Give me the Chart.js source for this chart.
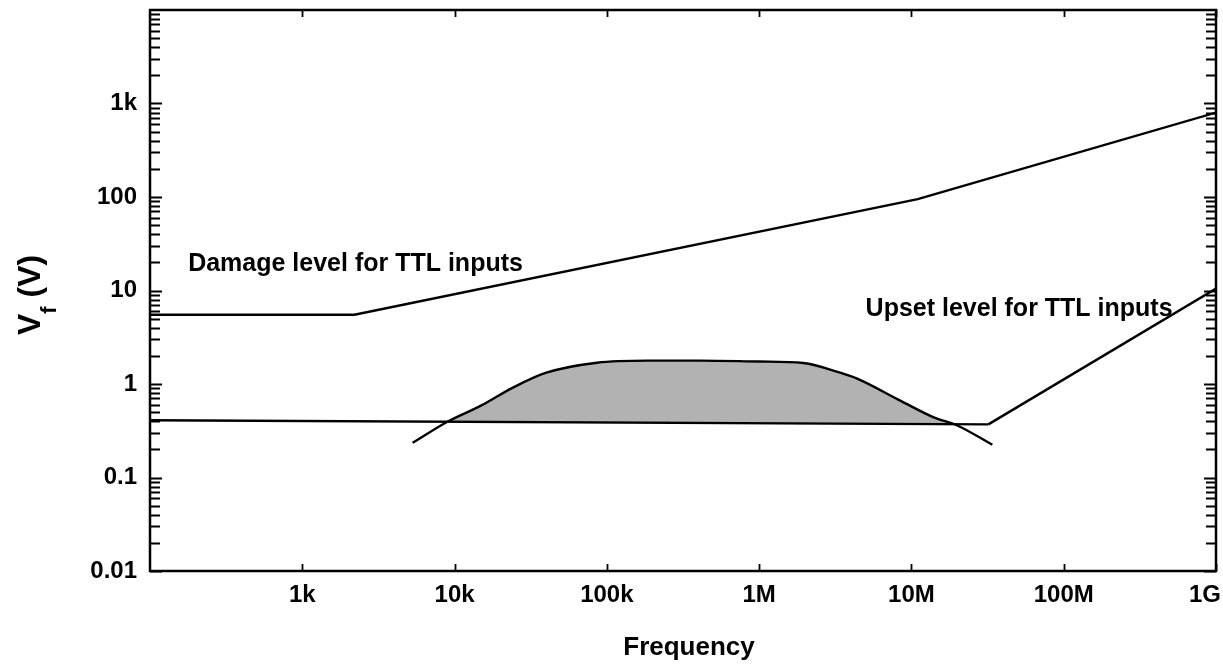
<!DOCTYPE html>
<html>
<head>
<meta charset="utf-8">
<script src="https://cdn.jsdelivr.net/npm/chart.js@4/dist/chart.umd.min.js"></script>
<style>
  html, body { margin: 0; padding: 0; background: #fff; }
</style>
</head>
<body>
<canvas id="myChart" width="1223" height="668"></canvas>
<script>
// damage level for TTL inputs
const damageFreq = [100, 2200, 11e6, 1e9];
const damageV = [5.5, 5.5, 95, 800];

// upset level for TTL inputs : palier puis montée
const upsetFlatFreq = [100, 32e6];
const upsetFlatV = [0.41, 0.37];
const upsetRiseFreq = [32e6, 1e9];
const upsetRiseV = [0.37, 10.5];

// bell shaped curve (shaded where above upset level)
const curveFreq = [5.3e3, 9.1e3, 15e3, 24e3, 40e3, 86e3, 184e3, 411e3, 1e6, 1.95e6, 3.4e6, 4.4e6, 8.5e6, 14e6, 20e6, 34e6];
const curveV = [0.235, 0.40, 0.59, 0.91, 1.32, 1.69, 1.78, 1.78, 1.74, 1.68, 1.32, 1.14, 0.66, 0.44, 0.36, 0.224];

const yTickValues = [0.01, 0.1, 1, 10, 100, 1000];
const yTickLabels = ["0.01", "0.1", "1", "10", "100", "1k"];
const xTickValues = [1e3, 1e4, 1e5, 1e6, 1e7, 1e8, 1e9];
const xTickLabels = ["1k", "10k", "100k", "1M", "10M", "100M", "1G"];

const damageLabel = "Damage level for TTL inputs";
const damageLabelAt = [178, 16];
const upsetLabel = "Upset level for TTL inputs";
const upsetLabelAt = [5.0e6, 5.4];

const FONT = "'Liberation Sans', Arial, sans-serif";
const SHADE = "#b2b2b2";

function pts(xs, ys) {
    return xs.map((v, i) => ({x: v, y: ys[i]}));
}

const canvas = document.getElementById("myChart");
const ctx = canvas.getContext("2d");

const framePlugin = {
    id: "frame",
    afterDraw(chart) {
        const c = chart.ctx;
        const a = chart.chartArea;
        const xs = chart.scales.x;
        const ys = chart.scales.y;
        c.save();

        // cadre
        c.strokeStyle = "#000";
        c.lineWidth = 2.5;
        c.strokeRect(a.left, a.top, a.right - a.left, a.bottom - a.top);

        // graduations y (gauche et droite, vers l'intérieur)
        c.lineWidth = 1.8;
        c.beginPath();
        for (let e = -2; e < 4; e++) {
            for (let m = 1; m <= 9; m++) {
                const py = Math.round(ys.getPixelForValue(m * Math.pow(10, e))) + 0.5;
                const len = m === 1 ? 12 : 10;
                c.moveTo(a.left, py);
                c.lineTo(a.left + len, py);
                c.moveTo(a.right, py);
                c.lineTo(a.right - len, py);
            }
        }
        // graduations x (bas et haut)
        xTickValues.forEach(v => {
            const px = Math.round(xs.getPixelForValue(v)) + 0.5;
            c.moveTo(px, a.bottom);
            c.lineTo(px, a.bottom - 7);
            c.moveTo(px, a.top);
            c.lineTo(px, a.top + 7);
        });
        c.stroke();

        // étiquettes x
        c.fillStyle = "#000";
        c.font = "bold 24px " + FONT;
        c.textBaseline = "middle";
        xTickValues.forEach((v, i) => {
            const px = xs.getPixelForValue(v);
            if (i === xTickValues.length - 1) {
                c.textAlign = "right";
                c.fillText(xTickLabels[i], a.right + 5, a.bottom + 24);
            } else {
                c.textAlign = "center";
                c.fillText(xTickLabels[i], px, a.bottom + 24);
            }
        });

        // titre x
        c.font = "bold 26px " + FONT;
        c.textAlign = "center";
        c.textBaseline = "alphabetic";
        c.fillText("Frequency", 689, 655);

        // titre y : V_f (V)
        c.save();
        c.translate(40, 335);
        c.rotate(-Math.PI / 2);
        c.textAlign = "left";
        c.font = "bold 32px " + FONT;
        c.fillText("V", 0, 0);
        const vw = c.measureText("V").width;
        c.font = "bold 22px " + FONT;
        c.fillText("f", vw, 16);
        const fw = c.measureText("f").width;
        c.font = "bold 32px " + FONT;
        c.fillText(" (V)", vw + fw, 0);
        c.restore();

        // annotations
        c.font = "bold 25px " + FONT;
        c.textAlign = "left";
        c.textBaseline = "alphabetic";
        c.fillText(damageLabel, xs.getPixelForValue(damageLabelAt[0]), ys.getPixelForValue(damageLabelAt[1]));
        c.fillText(upsetLabel, xs.getPixelForValue(upsetLabelAt[0]), ys.getPixelForValue(upsetLabelAt[1]));

        c.restore();
    }
};

const lineStyle = {
    borderColor: "#000",
    backgroundColor: "rgba(0,0,0,0)",
    borderWidth: 2.4,
    pointRadius: 0,
    fill: false
};

const myChart = new Chart(ctx, {
    type: "line",
    data: {
        datasets: [
            {...lineStyle, label: "Damage level", data: pts(damageFreq, damageV)},
            {...lineStyle, label: "Curve", data: pts(curveFreq, curveV), cubicInterpolationMode: "monotone"},
            {...lineStyle, label: "Upset level (rise)", data: pts(upsetRiseFreq, upsetRiseV)},
            {
                ...lineStyle,
                label: "Upset level",
                data: pts(upsetFlatFreq, upsetFlatV),
                order: 5,
                // zone grisée : sous la courbe, au-dessus du palier
                fill: {target: 1, below: SHADE, above: "rgba(0,0,0,0)"}
            }
        ]
    },
    options: {
        responsive: false,
        animation: false,
        devicePixelRatio: 1,
        layout: {padding: {left: 0, right: 7, top: 10, bottom: 0}},
        plugins: {
            legend: {display: false},
            tooltip: {enabled: false}
        },
        scales: {
            x: {
                type: "logarithmic",
                min: 100,
                max: 1e9,
                grid: {display: false},
                border: {display: false},
                ticks: {display: false},
                afterFit(scale) {
                    scale.height = 97;
                    scale.paddingLeft = 0;
                    scale.paddingRight = 0;
                }
            },
            y: {
                type: "logarithmic",
                min: 0.01,
                max: 10000,
                grid: {display: false, drawTicks: false},
                border: {display: false},
                afterBuildTicks(scale) {
                    scale.ticks = yTickValues.map(v => ({value: v}));
                },
                ticks: {
                    color: "#000",
                    padding: 13,
                    font: {family: FONT, size: 24, weight: "bold"},
                    callback: (value, index) => yTickLabels[index]
                },
                afterFit(scale) {
                    scale.width = 150;
                    scale.paddingTop = 0;
                    scale.paddingBottom = 0;
                }
            }
        }
    },
    plugins: [framePlugin]
});
</script>
</body>
</html>
